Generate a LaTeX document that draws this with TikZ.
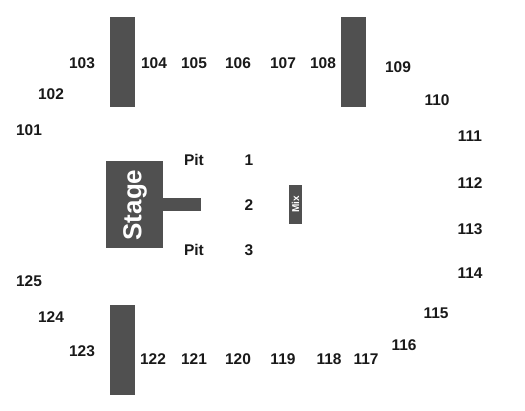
\documentclass[tikz,border=0pt]{standalone}
\usepackage{fontspec}
\setmainfont{Liberation Sans}
\definecolor{blk}{HTML}{505050}
\tikzset{sec/.style={font=\bfseries\fontsize{15.5}{16}\selectfont,text=black!90,inner sep=0pt},
blockbox/.style={fill=blk,draw=none}}
\begin{document}
\begin{tikzpicture}[x=1pt,y=-1pt]
\useasboundingbox (0,0) rectangle (525,410);
\fill[white] (0,0) rectangle (525,410);
\fill[blockbox] (110,17) rectangle (135,107);
\fill[blockbox] (341,17) rectangle (366,107);
\fill[blockbox] (110,305) rectangle (135,395);
\fill[blockbox] (105.5,160.5) rectangle (163,248);
\fill[blockbox] (163,198) rectangle (201,211);
\fill[blockbox] (288.5,184.5) rectangle (301.5,224);
\node[font=\bfseries\fontsize{26}{26}\selectfont,text=white,rotate=90,inner sep=0pt] (stage) at (135,205) {Stage};
\node[font=\bfseries\fontsize{10}{10}\selectfont,text=white,rotate=90,inner sep=0pt] (mix) at (295.5,204) {Mix};
\foreach \n/\x/\y in {103/82/63,104/154/63,105/194/63,106/238/63,107/283/63,108/323/63,109/398/67,110/437/100,111/470/136,112/470/183,113/470/229,114/470/273,115/436/313,116/404/345,117/366/359,118/329/359,119/283/359,120/238/359,121/194/359,122/153/359,123/82/351,124/51/317,125/29/281,101/29/130,102/51/94,Pit/194/160,Pit/194/250,1/249/160,2/249/205,3/249/250}
  \node[sec] (n\x-\y) at (\x,\y) {\n};
\end{tikzpicture}
\end{document}
